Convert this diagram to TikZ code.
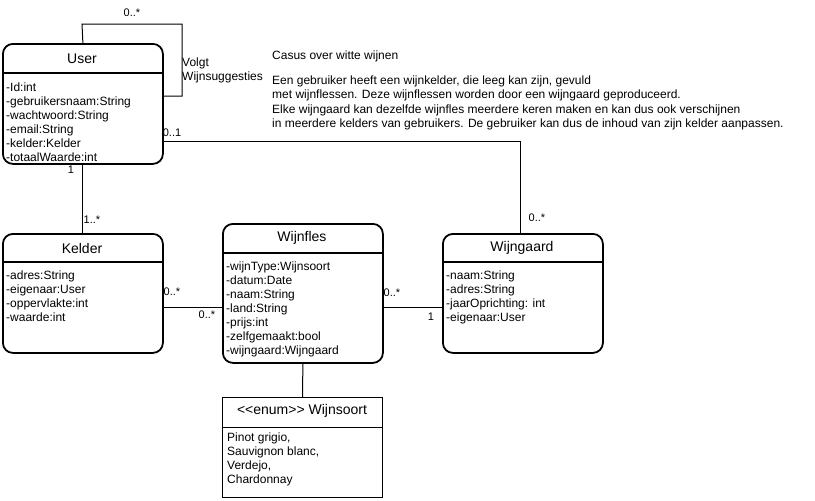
\documentclass[tikz,border=0pt]{standalone}
\usepackage{fontspec}
\setmainfont{Liberation Sans}
\begin{document}
\begin{tikzpicture}[x=1pt,y=-1pt,
  cls/.style={draw, line width=1.8pt, rounded corners=10pt, minimum width=160pt, inner sep=0pt, anchor=north west},
  enumbox/.style={draw, line width=1pt, minimum width=160pt, inner sep=0pt, anchor=north west},
  sep/.style={line width=1.8pt},
  ttl/.style={font=\fontsize{14}{16}\selectfont, inner sep=0pt, anchor=center},
  attr/.style={font=\fontsize{12}{14}\selectfont, inner sep=0pt, anchor=base west},
  lbl/.style={font=\fontsize{11}{13}\selectfont, inner sep=0pt, anchor=center},
  conn/.style={line width=1pt}
]
\useasboundingbox (0,0) rectangle (815,501);

% boxes
\node[cls, minimum height=120pt] (user) at (2,43) {};
\node[cls, minimum height=119pt] (kelder) at (2,233) {};
\node[cls, minimum height=139pt] (wijnfles) at (222,223) {};
\node[cls, minimum height=119pt] (wijngaard) at (442,233) {};
\node[enumbox, minimum height=100pt] (wijnsoort) at (222,397) {};

% header separators
\draw[sep] (2,73) -- (162,73);
\draw[sep] (2,262) -- (162,262);
\draw[sep] (222,253) -- (382,253);
\draw[sep] (442,262) -- (602,262);
\draw[line width=1pt] (222,427) -- (382,427);

% titles
\node[ttl] (tuser) at (82,59) {User};
\node[ttl] (tkelder) at (82,248) {Kelder};
\node[ttl] (twijnfles) at (302,238) {Wijnfles};
\node[ttl] (twijngaard) at (522,248) {Wijngaard};
\node[ttl] (twijnsoort) at (302,411) {{<}{<}enum{>}{>} Wijnsoort};

% attributes
\foreach \t [count=\i] in {-Id:int,-gebruikersnaam:String,-wachtwoord:String,-email:String,-kelder:Kelder,-totaalWaarde:int}
  \node[attr] (ua\i) at (6,{91+14*(\i-1)}) {\t};
\foreach \t [count=\i] in {-adres:String,-eigenaar:User,-oppervlakte:int,-waarde:int}
  \node[attr] (ka\i) at (6,{279+14*(\i-1)}) {\t};
\foreach \t [count=\i] in {-wijnType:Wijnsoort,-datum:Date,-naam:String,-land:String,-prijs:int,-zelfgemaakt:bool,-wijngaard:Wijngaard}
  \node[attr] (wa\i) at (226,{270+14*(\i-1)}) {\t};
\foreach \t [count=\i] in {-naam:String,-adres:String,-jaarOprichting: int,-eigenaar:User}
  \node[attr] (ga\i) at (446,{279+14*(\i-1)}) {\t};
\foreach \t [count=\i] in {{Pinot grigio,},{Sauvignon blanc,},{Verdejo,},Chardonnay}
  \node[attr] (sa\i) at (227,{441+14*(\i-1)}) {\t};

% description
\node[attr] (casus) at (272,59) {Casus over witte wijnen};
\foreach \t [count=\i] in {{Een gebruiker heeft een wijnkelder, die leeg kan zijn, gevuld},{met wijnflessen. Deze wijnflessen worden door een wijngaard geproduceerd.},{Elke wijngaard kan dezelfde wijnfles meerdere keren maken en kan dus ook verschijnen},{in meerdere kelders van gebruikers. De gebruiker kan dus de inhoud van zijn kelder aanpassen.}}
  \node[attr] (d\i) at (272,{84+14.5*(\i-1)}) {\t};

% connectors
\coordinate (l1) at (82,24);
\coordinate (l2) at (182,24);
\coordinate (l3) at (182,96);
\draw[conn] (user.north) -- (l1) -- (l2) -- (l3) -- (user.east |- l3);
\coordinate (c1) at (520,141);
\draw[conn] (user.east |- c1) -- (c1) -- (wijngaard.north -| c1);
\draw[conn] (user.south) -- (kelder.north);
\coordinate (h) at (0,307);
\draw[conn] (kelder.east |- h) -- (wijnfles.west |- h);
\draw[conn] (wijnfles.east |- h) -- (wijngaard.west |- h);
\draw[conn] (wijnfles.south) -- (wijnsoort.north);

% labels
\node[lbl] (m1) at (132,13) {0..*};
\node[attr, font=\fontsize{12}{14}\selectfont] (volgt1) at (182,66) {Volgt};
\node[attr, font=\fontsize{12}{14}\selectfont] (volgt2) at (182,80) {Wijnsuggesties};
\node[lbl] (m2) at (172,133) {0..1};
\node[lbl] (m3) at (537,218) {0..*};
\node[lbl] (m4) at (71,170) {1};
\node[lbl] (m5) at (92,220) {1..*};
\node[lbl] (m6) at (172,292) {0..*};
\node[lbl] (m7) at (207,315) {0..*};
\node[lbl] (m8) at (392,293) {0..*};
\node[lbl] (m9) at (431,317) {1};
\end{tikzpicture}
\end{document}
